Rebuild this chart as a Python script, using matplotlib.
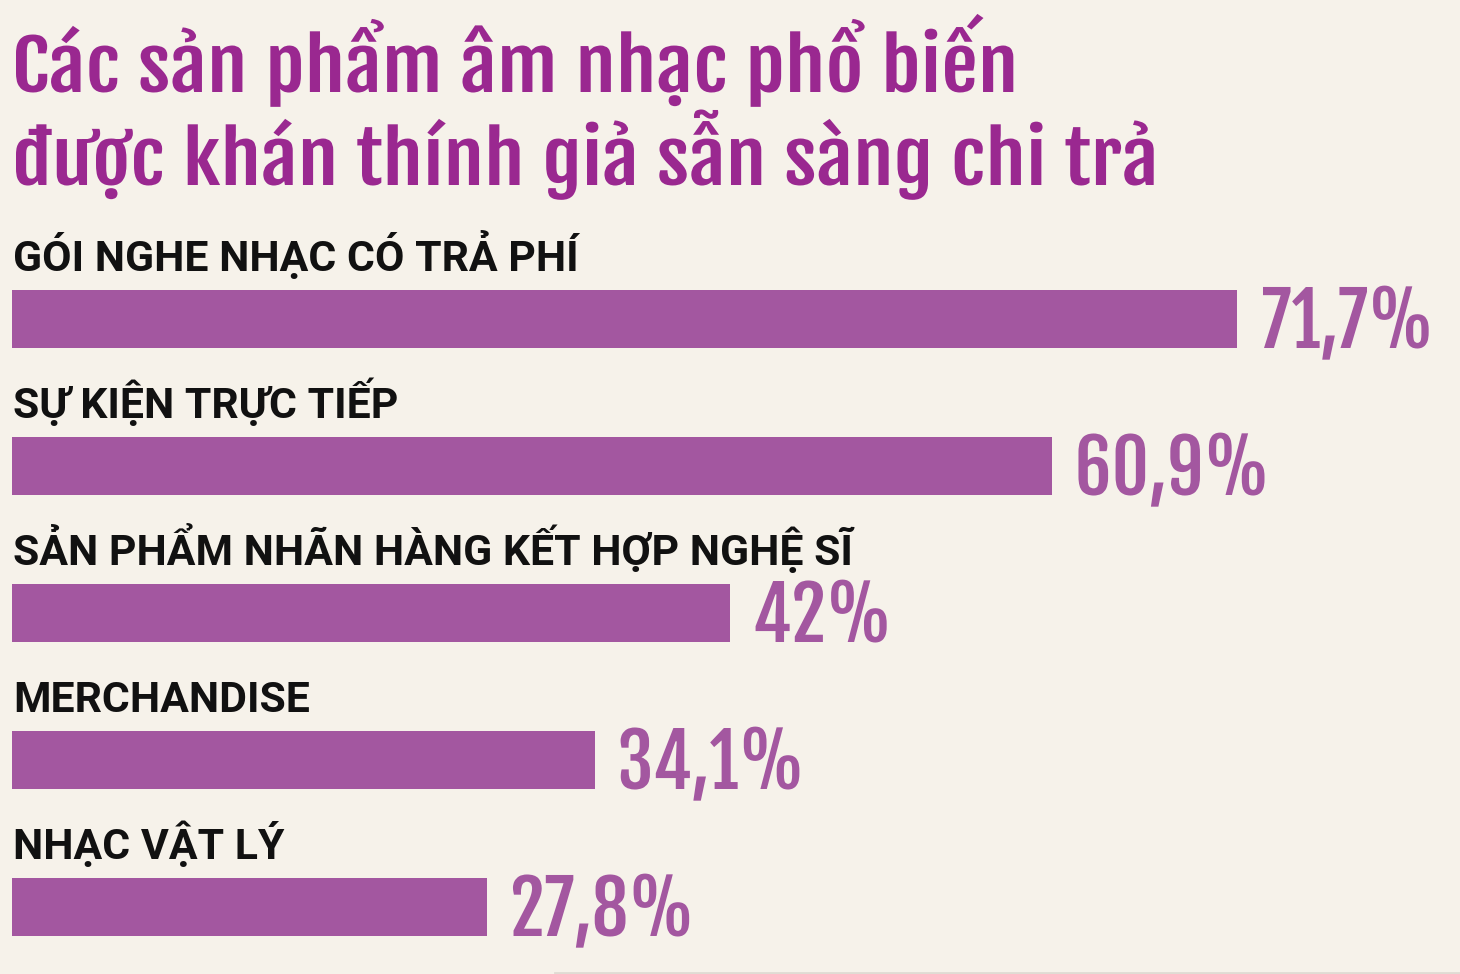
import matplotlib
matplotlib.use("Agg")
import matplotlib.pyplot as plt
from matplotlib.lines import Line2D
from matplotlib.textpath import TextPath
from matplotlib.patches import PathPatch
from matplotlib.transforms import Affine2D
from matplotlib.font_manager import FontProperties

# Datos
categorias = [
    "GÓI NGHE NHẠC CÓ TRẢ PHÍ",
    "SỰ KIỆN TRỰC TIẾP",
    "SẢN PHẨM NHÃN HÀNG KẾT HỢP NGHỆ SĨ",
    "MERCHANDISE",
    "NHẠC VẬT LÝ",
]
valores = [71.7, 60.9, 42.0, 34.1, 27.8]
etiquetas_valor = ["71,7%", "60,9%", "42%", "34,1%", "27,8%"]
titulo = ["Các sản phẩm âm nhạc phổ biến", "được khán thính giả sẫn sàng chi trả"]

# Estilo
fondo = "#f6f2ea"
morado_barra = "#a357a0"
morado_titulo = "#9a2890"
fuente_cond = FontProperties(family=["Fjalla One", "Oswald", "DejaVu Sans"])
fuente_etiq = ["Roboto", "Liberation Sans", "DejaVu Sans"]

W, H = 1460, 974
fig = plt.figure(figsize=(W / 100, H / 100), dpi=100, facecolor=fondo)

# Ejes de barras: x=0 en el pixel 12, ~17.085 px por punto porcentual
izq = 12
escala = 17.085
paso = 147
centro0 = 319
ax = fig.add_axes([izq / W, 0, 1 - izq / W, 1])
ax.set_facecolor(fondo)
ax.set_xlim(0, (W - izq) / escala)
ax.set_ylim((H - centro0) / paso, -centro0 / paso)
ax.axis("off")

# Capa en pixeles para el texto condensado (y hacia abajo)
capa = fig.add_axes([0, 0, 1, 1], zorder=3)
capa.set_xlim(0, W)
capa.set_ylim(H, 0)
capa.axis("off")
capa.patch.set_alpha(0)

cap_ratio = TextPath((0, 0), "H", size=100, prop=fuente_cond).get_extents().height / 100


def ancho(s, size):
    return TextPath((0, 0), s, size=size, prop=fuente_cond).get_extents().width


def texto_estirado(x, y, s, size, sx, color):
    tp = TextPath((0, 0), s, size=size, prop=fuente_cond)
    x0 = tp.get_extents().x0
    tr = Affine2D().translate(-x0, 0).scale(sx, -1).translate(x, y)
    capa.add_patch(PathPatch(tr.transform_path(tp), facecolor=color, edgecolor="none"))


# Título
t_size = 57 / cap_ratio
t_sx = (1009 + 1126) / (ancho(titulo[0], t_size) + ancho(titulo[1], t_size))
texto_estirado(16, 92, titulo[0], t_size, t_sx, morado_titulo)
texto_estirado(16, 185, titulo[1], t_size, t_sx, morado_titulo)

# Barras, categorías y valores
alto = 58 / paso
v_size = 61 / cap_ratio
v_sx = 186 / ancho(etiquetas_valor[1], v_size)
for i, (cat, v, lab) in enumerate(zip(categorias, valores, etiquetas_valor)):
    ax.barh(i, v, height=alto, color=morado_barra, edgecolor="none")
    ax.text(0.05, i - 48 / paso, cat, fontsize=30.8, fontweight="bold",
            family=fuente_etiq, color="#111111", va="baseline", ha="left")
    xd, yd = ax.transData.transform((v, i + alto / 2))
    texto_estirado(xd + 26, H - yd, lab, v_size, v_sx, morado_barra)

# línea tenue al pie
fig.add_artist(Line2D([555 / W, 1], [1.5 / H, 1.5 / H], color="#e0dbd3", lw=2))

fig.savefig("out.png", facecolor=fondo)
